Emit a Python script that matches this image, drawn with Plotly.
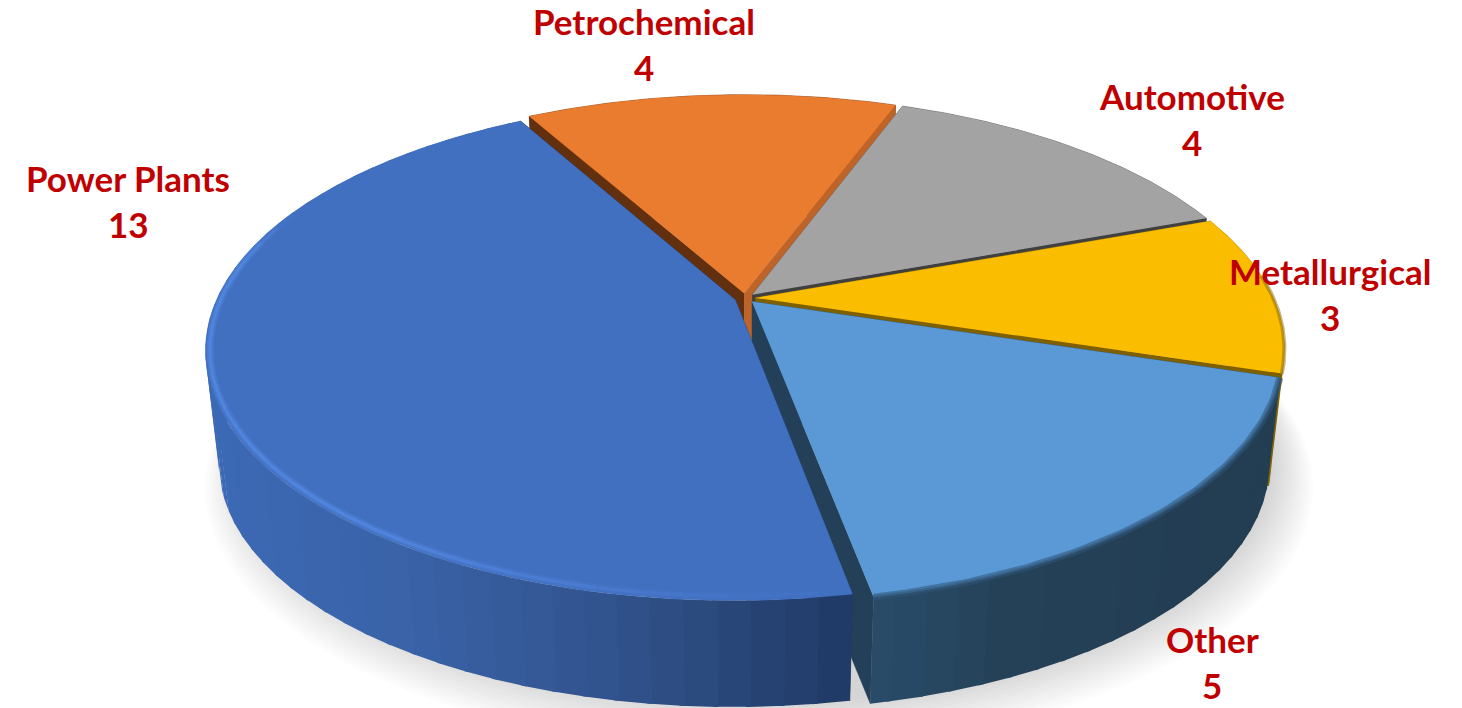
import numpy as np
import plotly.graph_objects as go

categories = ["Petrochemical", "Automotive", "Metallurgical", "Other", "Power Plants"]
values = [4, 4, 3, 5, 13]
top_colors = ["#EA7C30", "#A3A3A3", "#FBBD00", "#5A99D6", "#4270C0"]
side_left_colors = ["#63300F", "#404040", "#7F6000", "#234058", "#203864"]
side_right_colors = ["#BE6428", "#404040", "#7F6000", "#234058", "#203864"]
wall_stops_x = {3: [860, 1000, 1290], 4: [205, 400, 550, 700, 860]}
wall_stops_c = {3: ["#2A4E6C", "#254259", "#233D52"],
                4: ["#3D6AB6", "#3A63A8", "#355896", "#2B4A7E", "#203864"]}
label_x = [644, 1192, 1330, 1212, 128]
label_y = [21, 96, 271, 639, 178]
label_color = "#C00000"

START = -29.3
CX, CY, RX, RY, P = 745.0, 298.0, 518.0, 240.0, 0.20
EXPLODE, DEPTH, TAPER = 0.02, 114.0, 0.025


def proj(X, Y, z=0.0):
    s = (1.0 - TAPER * z) / (1.0 - P * np.asarray(Y))
    return CX + RX * np.asarray(X) * s, CY + DEPTH * z + RY * np.asarray(Y) * s


def hex2rgb(h):
    return np.array([int(h[i:i + 2], 16) for i in (1, 3, 5)], float)


def lerp_color(x, xs, cs):
    rgb = [np.interp(x, xs, [hex2rgb(c)[k] for c in cs]) for k in range(3)]
    return "rgb(%d,%d,%d)" % tuple(rgb)


fig = go.Figure()


def poly(xs, ys, color, line=0.0):
    fig.add_trace(go.Scatter(x=list(xs), y=list(ys), mode="lines", fill="toself", fillcolor=color,
                             line=dict(color=color, width=line), hoverinfo="skip", showlegend=False))


def stroke(xs, ys, color, width):
    fig.add_trace(go.Scatter(x=list(xs), y=list(ys), mode="lines", line=dict(color=color, width=width),
                             hoverinfo="skip", showlegend=False))


# soft ground shadow
t = np.linspace(0, 2 * np.pi, 181)
for k in range(14):
    g = 1.0 + 0.0055 * (13 - k)
    sx, sy = proj(np.sin(t) * g, np.cos(t) * g, 1.0)
    poly(sx + 14, sy + 3 * (13 - k) * 0.5, "rgba(0,0,0,0.013)")

total = sum(values)
angle = START
for i, v in enumerate(values):
    a0, a1 = angle, angle + 360.0 * v / total
    angle = a1
    mid = np.radians((a0 + a1) / 2)
    ox, oy = EXPLODE * np.sin(mid), -EXPLODE * np.cos(mid)
    th = np.radians(np.linspace(a0, a1, max(int(a1 - a0) * 2, 8) + 1))
    rimX, rimY = ox + np.sin(th), oy - np.cos(th)
    xt, yt = proj(rimX, rimY, 0.0)
    xb, yb = proj(rimX, rimY, 1.0)


    def outer_wall():
        if i in wall_stops_x:
            step = 6
            for j in range(0, len(th) - 1, step):
                e = min(j + step + 2, len(th))
                col = lerp_color(xt[j:e].mean(), wall_stops_x[i], wall_stops_c[i])
                poly(np.r_[xt[j:e], xb[j:e][::-1]], np.r_[yt[j:e], yb[j:e][::-1]], col, 0)
        else:
            poly(np.r_[xt, xb[::-1]], np.r_[yt, yb[::-1]], side_left_colors[i], 0.5)


    # the back slices' outer walls lie behind their cut faces
    if i < 2:
        outer_wall()

    # radial walls
    for end, col in ((-1, side_right_colors[i]), (0, side_left_colors[i])):
        wx = [ox, rimX[end], rimX[end], ox]
        wy = [oy, rimY[end], rimY[end], oy]
        wz = [0, 0, 1, 1]
        px, py = zip(*[proj(a, b, c) for a, b, c in zip(wx, wy, wz)])
        poly(px, py, col, 0.5)

    if i >= 2:
        outer_wall()

    # top face
    ax, ay = proj(ox, oy, 0.0)
    poly(np.r_[float(ax), xt], np.r_[float(ay), yt], top_colors[i], 0.3)

    # bevel along the rim
    front = -np.cos(th) > -0.1
    if i == 2:
        stroke(xt[front], yt[front], "rgba(127,96,0,0.45)", 4)
    if i == 3:
        stroke(xt, yt, "rgba(48,84,118,0.55)", 7)
        stroke(xt, yt, "rgba(48,84,118,0.55)", 3)
    if i == 4:
        deg = np.degrees(th)
        hx, hy = proj(ox + np.sin(th) * 0.992, oy - np.cos(th) * 0.988, 0.0)
        idx = np.where((deg >= 172) & (deg <= 292))[0]
        for j in range(idx[0], idx[-1], 8):
            centre = deg[min(j + 4, len(deg) - 1)]
            al = 0.62 * np.clip(min((centre - 172) / 45.0, (292 - centre) / 12.0), 0.15, 1.0)
            e = j + 9
            stroke(hx[j:e], hy[j:e], "rgba(86,140,232,%.3f)" % (al * 0.55), 7)
            stroke(hx[j:e], hy[j:e], "rgba(86,140,232,%.3f)" % al, 3)

for name, v, lx, ly in zip(categories, values, label_x, label_y):
    for txt, yy in ((name, ly), (str(v), ly + 46)):
        fig.add_annotation(x=lx, y=yy, xref="x", yref="y", text="<b>%s</b>" % txt, showarrow=False,
                           font=dict(family="Lato", size=35, color=label_color),
                           xanchor="center", yanchor="middle")

fig.update_layout(width=1462, height=708, autosize=False, margin=dict(l=0, r=0, t=0, b=0),
                  paper_bgcolor="white", plot_bgcolor="white",
                  xaxis=dict(range=[0, 1462], visible=False, fixedrange=True),
                  yaxis=dict(range=[708, 0], visible=False, fixedrange=True))
fig.write_html("out.html", config={"displayModeBar": False},
               post_script="document.body.style.margin='0';document.body.style.overflow='hidden';")
